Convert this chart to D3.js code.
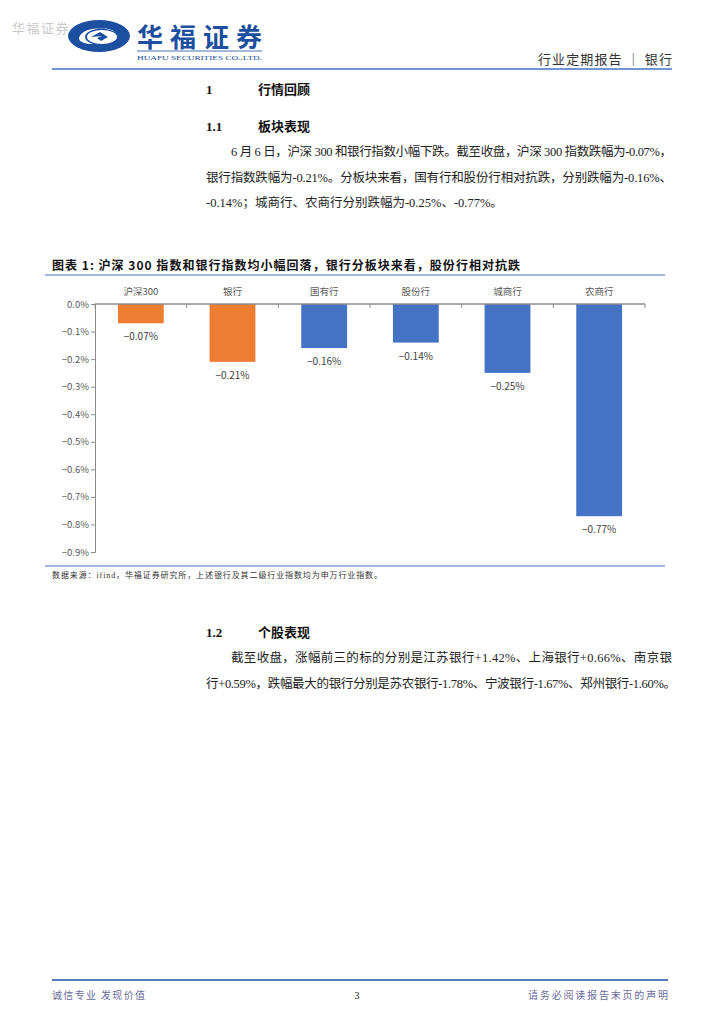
<!DOCTYPE html>
<html>
<head>
<meta charset="utf-8">
<script src="https://cdn.jsdelivr.net/npm/d3@7"></script>
<style>
  body { margin: 0; background: #fff; }
  svg { display: block; }
  .serif { font-family: "Liberation Serif", "Noto Sans CJK SC", serif; }
  .sans { font-family: "Noto Sans CJK SC", "Liberation Sans", sans-serif; }
</style>
</head>
<body>
<div id="page"></div>
<script>
// chart data
var categories = ["沪深300", "银行", "国有行", "股份行", "城商行", "农商行"];
var changes = [-0.07, -0.21, -0.16, -0.14, -0.25, -0.77];
var barColors = ["#ED7D31", "#ED7D31", "#4472C4", "#4472C4", "#4472C4", "#4472C4"];
var yTicks = [0, -0.1, -0.2, -0.3, -0.4, -0.5, -0.6, -0.7, -0.8, -0.9];

var blue = "#4472C4";

var svg = d3.select("#page").append("svg")
    .attr("width", 724)
    .attr("height", 1024);

// ---- header ----
svg.append("text").attr("class", "sans")
    .attr("x", 12).attr("y", 33)
    .attr("font-size", 13).attr("fill", "#c8c8c8")
    .attr("letter-spacing", 1.5)
    .text("华福证券");

// logo swirl
var logo = svg.append("g").attr("transform", "translate(99,36)");
logo.append("ellipse").attr("rx", 31).attr("ry", 16).attr("fill", "#1c4fa0");
logo.append("path")
    .attr("d", "M-20,2 C-18,-8 4,-11 16,-4 C10,-9 -4,-9 -12,-3 C-16,0 -14,6 -6,8 C-14,8 -20,6 -20,2 Z")
    .attr("fill", "#fff");
logo.append("ellipse").attr("cx", 3).attr("cy", 1).attr("rx", 15).attr("ry", 7).attr("fill", "#fff");
logo.append("path")
    .attr("d", "M-8,1 L1,-4 L9,1 L2,5 L-2,2 L3,0 Z")
    .attr("fill", "#1c4fa0");

svg.append("text").attr("class", "sans")
    .attr("x", 137).attr("y", 47)
    .attr("font-size", 26).attr("font-weight", "bold").attr("fill", "#1c4fa0")
    .attr("textLength", 125).attr("lengthAdjust", "spacing")
    .text("华福证券");
svg.append("line")
    .attr("x1", 137).attr("x2", 262).attr("y1", 51).attr("y2", 51)
    .attr("stroke", "#1c4fa0").attr("stroke-width", 0.8);
svg.append("text").attr("class", "serif")
    .attr("x", 137).attr("y", 60)
    .attr("font-size", 7).attr("fill", "#1c4fa0")
    .attr("textLength", 125).attr("lengthAdjust", "spacingAndGlyphs")
    .text("HUAFU SECURITIES CO.,LTD.");

svg.append("text").attr("class", "sans")
    .attr("x", 538).attr("y", 64)
    .attr("font-size", 13).attr("fill", "#333")
    .attr("textLength", 134).attr("lengthAdjust", "spacing")
    .text("行业定期报告 ｜ 银行");
svg.append("line")
    .attr("x1", 52).attr("x2", 672).attr("y1", 69).attr("y2", 69)
    .attr("stroke", blue).attr("stroke-width", 1.5);

// ---- headings and paragraphs ----
function heading(num, title, y) {
    svg.append("text").attr("class", "serif")
        .attr("x", 206).attr("y", y).attr("font-size", 13).attr("font-weight", "bold")
        .attr("fill", "#111").text(num);
    svg.append("text").attr("class", "sans")
        .attr("x", 258).attr("y", y).attr("font-size", 13).attr("font-weight", "bold")
        .attr("fill", "#111").text(title);
}
function para(lines, y0) {
    lines.forEach(function (l, i) {
        var t = svg.append("text").attr("class", "serif")
            .attr("x", l.x).attr("y", y0 + i * 25.5)
            .attr("font-size", 12.5).attr("fill", "#222")
            .text(l.t);
        if (l.w) t.attr("textLength", l.w).attr("lengthAdjust", "spacing");
    });
}

heading("1", "行情回顾", 94);
heading("1.1", "板块表现", 131);
para([
    {x: 231, w: 441, t: "6 月 6 日，沪深 300 和银行指数小幅下跌。截至收盘，沪深 300 指数跌幅为-0.07%，"},
    {x: 206, w: 466, t: "银行指数跌幅为-0.21%。分板块来看，国有行和股份行相对抗跌，分别跌幅为-0.16%、"},
    {x: 206, t: "-0.14%；城商行、农商行分别跌幅为-0.25%、-0.77%。"}
], 156);

// ---- chart title ----
svg.append("text").attr("class", "sans")
    .attr("x", 52).attr("y", 270)
    .attr("font-size", 12).attr("font-weight", "bold").attr("fill", "#111")
    .attr("textLength", 468).attr("lengthAdjust", "spacing")
    .text("图表 1:  沪深 300 指数和银行指数均小幅回落，银行分板块来看，股份行相对抗跌");
svg.append("line")
    .attr("x1", 45).attr("x2", 665).attr("y1", 275).attr("y2", 275)
    .attr("stroke", blue).attr("stroke-width", 1.2);

// ---- bar chart ----
var x = d3.scaleBand().domain(categories).range([95, 645]).paddingInner(0.5).paddingOuter(0.25);
var y = d3.scaleLinear().domain([0, -0.9]).range([304, 552]);
var axisColor = "#8c8c8c";

var g = svg.append("g");

g.selectAll("rect.bar")
    .data(changes)
    .enter().append("rect")
    .attr("class", "bar")
    .attr("x", function (d, i) { return x(categories[i]); })
    .attr("y", y(0))
    .attr("width", x.bandwidth())
    .attr("height", function (d) { return y(d) - y(0); })
    .attr("fill", function (d, i) { return barColors[i]; });

// value labels
var fmt = d3.format(".2f");
g.selectAll("text.val")
    .data(changes)
    .enter().append("text")
    .attr("class", "val sans")
    .attr("x", function (d, i) { return x(categories[i]) + x.bandwidth() / 2; })
    .attr("y", function (d) { return y(d) + 17; })
    .attr("text-anchor", "middle")
    .attr("font-size", 10).attr("fill", "#404040")
    .text(function (d) { return fmt(d) + "%"; });

// y axis
var yAxis = d3.axisLeft(y)
    .tickValues(yTicks)
    .tickSize(4)
    .tickFormat(function (d) { return d3.format(".1f")(d) + "%"; });
var ya = g.append("g").attr("transform", "translate(95,0)").call(yAxis);
ya.select(".domain").attr("stroke", axisColor);
ya.selectAll(".tick line").attr("stroke", axisColor);
ya.selectAll(".tick text")
    .attr("class", "sans").attr("font-size", 9.5).attr("fill", "#595959").attr("x", -6);

// x axis along zero line, categories on top
var xa = g.append("g").attr("transform", "translate(0," + y(0) + ")");
xa.append("line").attr("x1", 95).attr("x2", 645).attr("stroke", axisColor).attr("stroke-width", 1.5);
d3.range(categories.length + 1).forEach(function (i) {
    var px = 95 + i * (550 / categories.length);
    xa.append("line").attr("x1", px).attr("x2", px).attr("y1", 0).attr("y2", 4)
        .attr("stroke", axisColor);
});
xa.selectAll("text.cat")
    .data(categories)
    .enter().append("text")
    .attr("class", "cat sans")
    .attr("x", function (d) { return x(d) + x.bandwidth() / 2; })
    .attr("y", -9)
    .attr("text-anchor", "middle")
    .attr("font-size", 9.5).attr("fill", "#595959")
    .text(function (d) { return d; });

// ---- source ----
svg.append("line")
    .attr("x1", 45).attr("x2", 665).attr("y1", 566).attr("y2", 566)
    .attr("stroke", blue).attr("stroke-width", 1.2);
svg.append("text").attr("class", "serif")
    .attr("x", 52).attr("y", 578)
    .attr("font-size", 8).attr("fill", "#333")
    .attr("textLength", 330).attr("lengthAdjust", "spacing")
    .text("数据来源：ifind，华福证券研究所，上述银行及其二级行业指数均为申万行业指数。");

// ---- section 1.2 ----
heading("1.2", "个股表现", 637);
para([
    {x: 231, w: 441, t: "截至收盘，涨幅前三的标的分别是江苏银行+1.42%、上海银行+0.66%、南京银"},
    {x: 206, w: 470, t: "行+0.59%，跌幅最大的银行分别是苏农银行-1.78%、宁波银行-1.67%、郑州银行-1.60%。"}
], 662);

// ---- footer ----
svg.append("line")
    .attr("x1", 52).attr("x2", 668).attr("y1", 980).attr("y2", 980)
    .attr("stroke", "#1c4fa0").attr("stroke-width", 1.5);
svg.append("text").attr("class", "sans")
    .attr("x", 52).attr("y", 999).attr("font-size", 10).attr("fill", "#6a6a9a")
    .attr("textLength", 93).attr("lengthAdjust", "spacing")
    .text("诚信专业  发现价值");
svg.append("text").attr("class", "serif")
    .attr("x", 357).attr("y", 999).attr("font-size", 10).attr("fill", "#222")
    .attr("text-anchor", "middle").text("3");
svg.append("text").attr("class", "sans")
    .attr("x", 528).attr("y", 999).attr("font-size", 10).attr("fill", "#6a6a9a")
    .attr("textLength", 140).attr("lengthAdjust", "spacing")
    .text("请务必阅读报告末页的声明");
</script>
</body>
</html>
